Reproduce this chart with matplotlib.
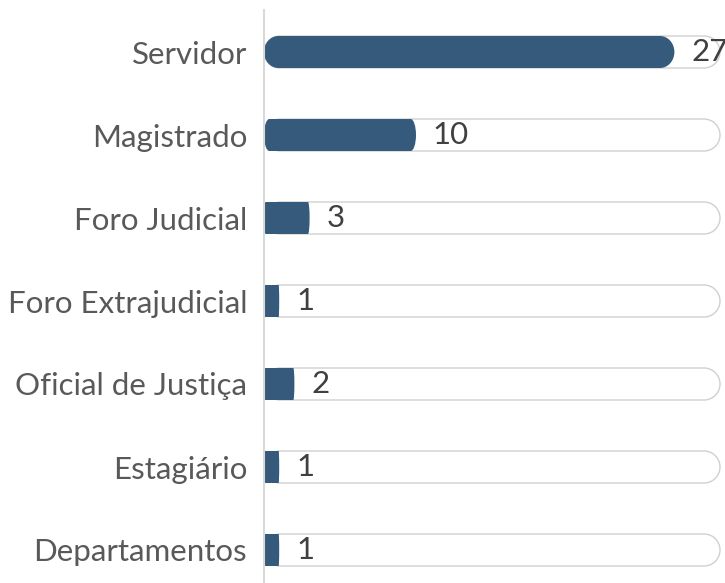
import matplotlib
matplotlib.use("Agg")
import matplotlib.pyplot as plt
from matplotlib.path import Path
from matplotlib.patches import PathPatch

categories = ["Servidor", "Magistrado", "Foro Judicial", "Foro Extrajudicial",
              "Oficial de Justiça", "Estagiário", "Departamentos"]
values = [27, 10, 3, 1, 2, 1, 1]
track_max = 30

BAR_COLOR = "#355a7c"
TRACK_EDGE = "#d0d0d0"

fig = plt.figure(figsize=(7.25, 5.83), dpi=100)
W, H = 725, 583
ax_left, ax_right, ax_top, ax_bottom = 264, 725, 10, 583
ax = fig.add_axes([ax_left / W, 1 - ax_bottom / H, (ax_right - ax_left) / W, (ax_bottom - ax_top) / H])

px_per_unit = 15.2
ax.set_xlim(0, (ax_right - ax_left) / px_per_unit)
c0, step = 52, 83
ax.set_ylim((ax_bottom - c0) / step, (ax_top - c0) / step)

bar_h = 32 / step
hh = bar_h / 2
K = 0.5523


def rounded_path(x0, x1, c, hh, rx):
    verts = [
        (x0 + rx, c - hh),
        (x1 - rx, c - hh),
        (x1 - rx + K * rx, c - hh), (x1, c - K * hh), (x1, c),
        (x1, c + K * hh), (x1 - rx + K * rx, c + hh), (x1 - rx, c + hh),
        (x0 + rx, c + hh),
        (x0 + rx - K * rx, c + hh), (x0, c + K * hh), (x0, c),
        (x0, c - K * hh), (x0 + rx - K * rx, c - hh), (x0 + rx, c - hh),
        (x0 + rx, c - hh),
    ]
    codes = [Path.MOVETO, Path.LINETO,
             Path.CURVE4, Path.CURVE4, Path.CURVE4,
             Path.CURVE4, Path.CURVE4, Path.CURVE4,
             Path.LINETO,
             Path.CURVE4, Path.CURVE4, Path.CURVE4,
             Path.CURVE4, Path.CURVE4, Path.CURVE4,
             Path.CLOSEPOLY]
    return Path(verts, codes)


FS = 22.5
for i, (cat, v) in enumerate(zip(categories, values)):
    track = PathPatch(rounded_path(0, track_max, i, hh, 0.035 * track_max),
                      facecolor="white", edgecolor=TRACK_EDGE, lw=1.0, zorder=1)
    ax.add_patch(track)
    bar = PathPatch(rounded_path(0, v, i, hh, 0.035 * v),
                    facecolor=BAR_COLOR, edgecolor="none", zorder=2)
    ax.add_patch(bar)
    ax.annotate(str(v), xy=(v, i), xytext=(12.2, 0), textcoords="offset points",
                ha="left", va="center", fontsize=FS, color="#404040",
                family=["Lato", "DejaVu Sans"], zorder=3, annotation_clip=False)

ax.set_yticks(range(len(categories)))
ax.set_yticklabels(categories, fontsize=FS, color="#595959", family=["Lato", "DejaVu Sans"])
ax.tick_params(axis="y", length=0, pad=12.2)
ax.set_xticks([])
for s in ["top", "right", "bottom"]:
    ax.spines[s].set_visible(False)
ax.spines["left"].set_color("#d9d9d9")
ax.spines["left"].set_linewidth(1.5)
ax.patch.set_alpha(0)

fig.savefig("out.png", dpi=100)
